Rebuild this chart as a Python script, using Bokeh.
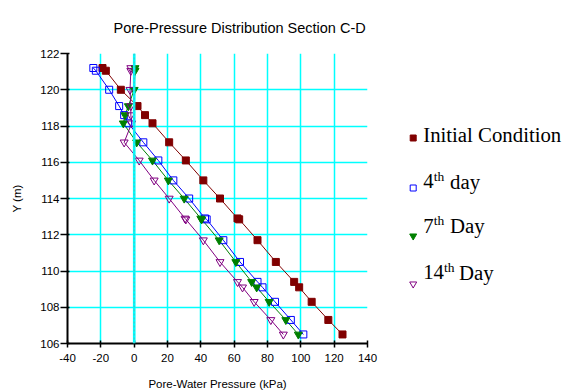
from bokeh.plotting import figure
from bokeh.models import Range1d, Span, Title
from bokeh.layouts import row
from bokeh.core.properties import value
from bokeh.embed import file_html
from bokeh.resources import INLINE

# ---------------- data ----------------
elev = [121.2, 121.05, 120.0, 119.1, 118.6, 118.15, 117.1, 116.1, 115.0, 114.0,
        112.9, 112.85, 111.7, 110.5, 109.4, 109.1, 108.3, 107.3, 106.5]
initial = [-19, -17, -8, 2, 6.5, 11, 21, 31, 41.5, 51.5,
           62, 63, 74, 85, 96, 99, 106.5, 116.5, 125]
day4 = [-24.5, -23, -15, -9, -6, -3.5, 5.5, 14.5, 23.5, 33,
        42.5, 43.5, 53.5, 63.5, 74, 77, 84.5, 94, 101.5]
day7 = [0.5, 0.5, 0, -3.5, -5.5, -6.5, 1.5, 11, 20.5, 30,
        40, 40.5, 51, 61, 70.5, 73.5, 81, 91, 98.5]
day14 = [-2, -2, -2.5, -2, -2, -1.5, -6, 3, 12, 21,
         30.5, 31, 41.5, 51.5, 62, 65, 72, 82, 89.5]

x_ticks = [-40, -20, 0, 20, 40, 60, 80, 100, 120, 140]
x_tick_labels = ["-40", "-20", "0", "20", "40", "60", "80", "100", "120", "140"]
y_ticks = [106, 108, 110, 112, 114, 116, 118, 120, 122]
y_tick_labels = ["106", "108", "110", "112", "114", "116", "118", "120", "122"]

title_text = "Pore-Pressure Distribution Section C-D"
x_label = "Pore-Water Pressure (kPa)"
y_label = "Y (m)"

legend_main = ["Initial Condition", "4", "7", "14"]
legend_sup = ["", "th", "th", "th"]
legend_rest = ["", "day", "Day", "Day"]

SANS = "Liberation Sans"
SERIF = "Liberation Serif"

# ---------------- main plot ----------------
p = figure(output_backend="svg", toolbar_location=None,
           frame_width=300, frame_height=290,
           min_border_left=67, min_border_right=38,
           min_border_top=53, min_border_bottom=49,
           x_range=Range1d(-40, 140), y_range=Range1d(106, 122))
p.outline_line_color = None
p.background_fill_color = "white"
p.border_fill_color = "white"

p.add_layout(Title(text=title_text, align="left", offset=46,
                   text_font=SANS, text_font_size="14.5px",
                   text_font_style="normal", text_color="black",
                   standoff=35), "above")

p.grid.grid_line_color = "#00FFFF"
p.grid.grid_line_width = 1.5
p.xgrid.ticker = x_ticks
p.ygrid.ticker = y_ticks

p.xaxis.ticker = x_ticks
p.yaxis.ticker = y_ticks
p.xaxis.major_label_overrides = {t: s for t, s in zip(x_ticks, x_tick_labels)}
p.yaxis.major_label_overrides = {t: s for t, s in zip(y_ticks, y_tick_labels)}
for ax in (p.xaxis[0], p.yaxis[0]):
    ax.axis_line_color = "black"
    ax.axis_line_width = 2
    ax.major_tick_line_color = "black"
    ax.major_tick_line_width = 1.5
    ax.minor_tick_line_color = None
    ax.major_label_text_font = SANS
    ax.major_label_text_font_size = "11.5px"
    ax.major_label_text_color = "black"
    ax.axis_label_text_font = SANS
    ax.axis_label_text_font_size = "11.5px"
    ax.axis_label_text_font_style = "normal"
    ax.axis_label_text_color = "black"
p.xaxis.axis_label = x_label
p.yaxis.axis_label = y_label
p.yaxis.major_tick_out = 7
p.yaxis.major_tick_in = 2
p.yaxis.major_label_standoff = 1
p.yaxis.axis_label_standoff = 14
p.xaxis.major_tick_out = 4
p.xaxis.major_tick_in = 3
p.xaxis.major_label_standoff = 6
p.xaxis.axis_label_standoff = 13

# zero line
p.add_layout(Span(location=0, dimension="height", line_color="#00FFFF", line_width=2.5))
p.add_layout(Span(location=0, dimension="height", line_color="#888888",
                  line_width=0.8, line_dash="2 2", line_alpha=0.7))

series = [
    (initial, "#800000", "square", "#800000", 7),
    (day4, "#0000FF", "square", None, 7),
    (day7, "#008000", "inverted_triangle", "#008000", 8),
    (day14, "#800080", "inverted_triangle", None, 8),
]
for xs, col, mk, fill, sz in series:
    p.line(xs, elev, line_color=col, line_width=1)
for xs, col, mk, fill, sz in series:
    p.scatter(xs, elev, marker=mk, size=sz, line_color=col,
              fill_color=fill, line_width=1)

# ---------------- legend panel ----------------
# frame aligned with the main plot's frame: y range in page pixels (53..343)
lg = figure(output_backend="svg", toolbar_location=None,
            frame_width=158, frame_height=290,
            min_border_left=0, min_border_right=0,
            min_border_top=53, min_border_bottom=49,
            x_range=Range1d(405, 563), y_range=Range1d(343, 53),
            x_axis_location=None, y_axis_location=None)
lg.outline_line_color = None
lg.grid.visible = False
lg.background_fill_color = "white"
lg.border_fill_color = "white"

mk_x = 412.7
mk_y = [137.5, 187.5, 235.5, 283.5]
mid_y = [134.2, 180.8, 225.2, 271.8]
sup_mid_y = [None, 175.5, 220.0, 266.5]
txt_x = 422.7
sup_x = [None, 433.2, 433.2, 443.6]
rest_x = [None, 449.5, 449.5, 458.5]

for i, (xs, col, mk, fill, sz) in enumerate(series):
    lg.scatter([mk_x], [mk_y[i]], marker=mk, size=6 if mk == "square" else 7,
               line_color=col, fill_color=fill, line_width=1)
    lg.text([txt_x], [mid_y[i]], text=[legend_main[i]], text_font=value(SERIF),
            text_font_size="20.8px", text_baseline="middle",
            text_align="left", text_color="black")
    if legend_sup[i]:
        lg.text([sup_x[i]], [sup_mid_y[i]], text=[legend_sup[i]],
                text_font=value(SERIF), text_font_size="13.5px",
                text_baseline="middle", text_align="left",
                text_color="black")
        lg.text([rest_x[i]], [mid_y[i]], text=[legend_rest[i]],
                text_font=value(SERIF), text_font_size="20.8px",
                text_baseline="middle", text_align="left",
                text_color="black")

layout = row(p, lg)
open("out.html", "w").write(file_html(layout, INLINE))
